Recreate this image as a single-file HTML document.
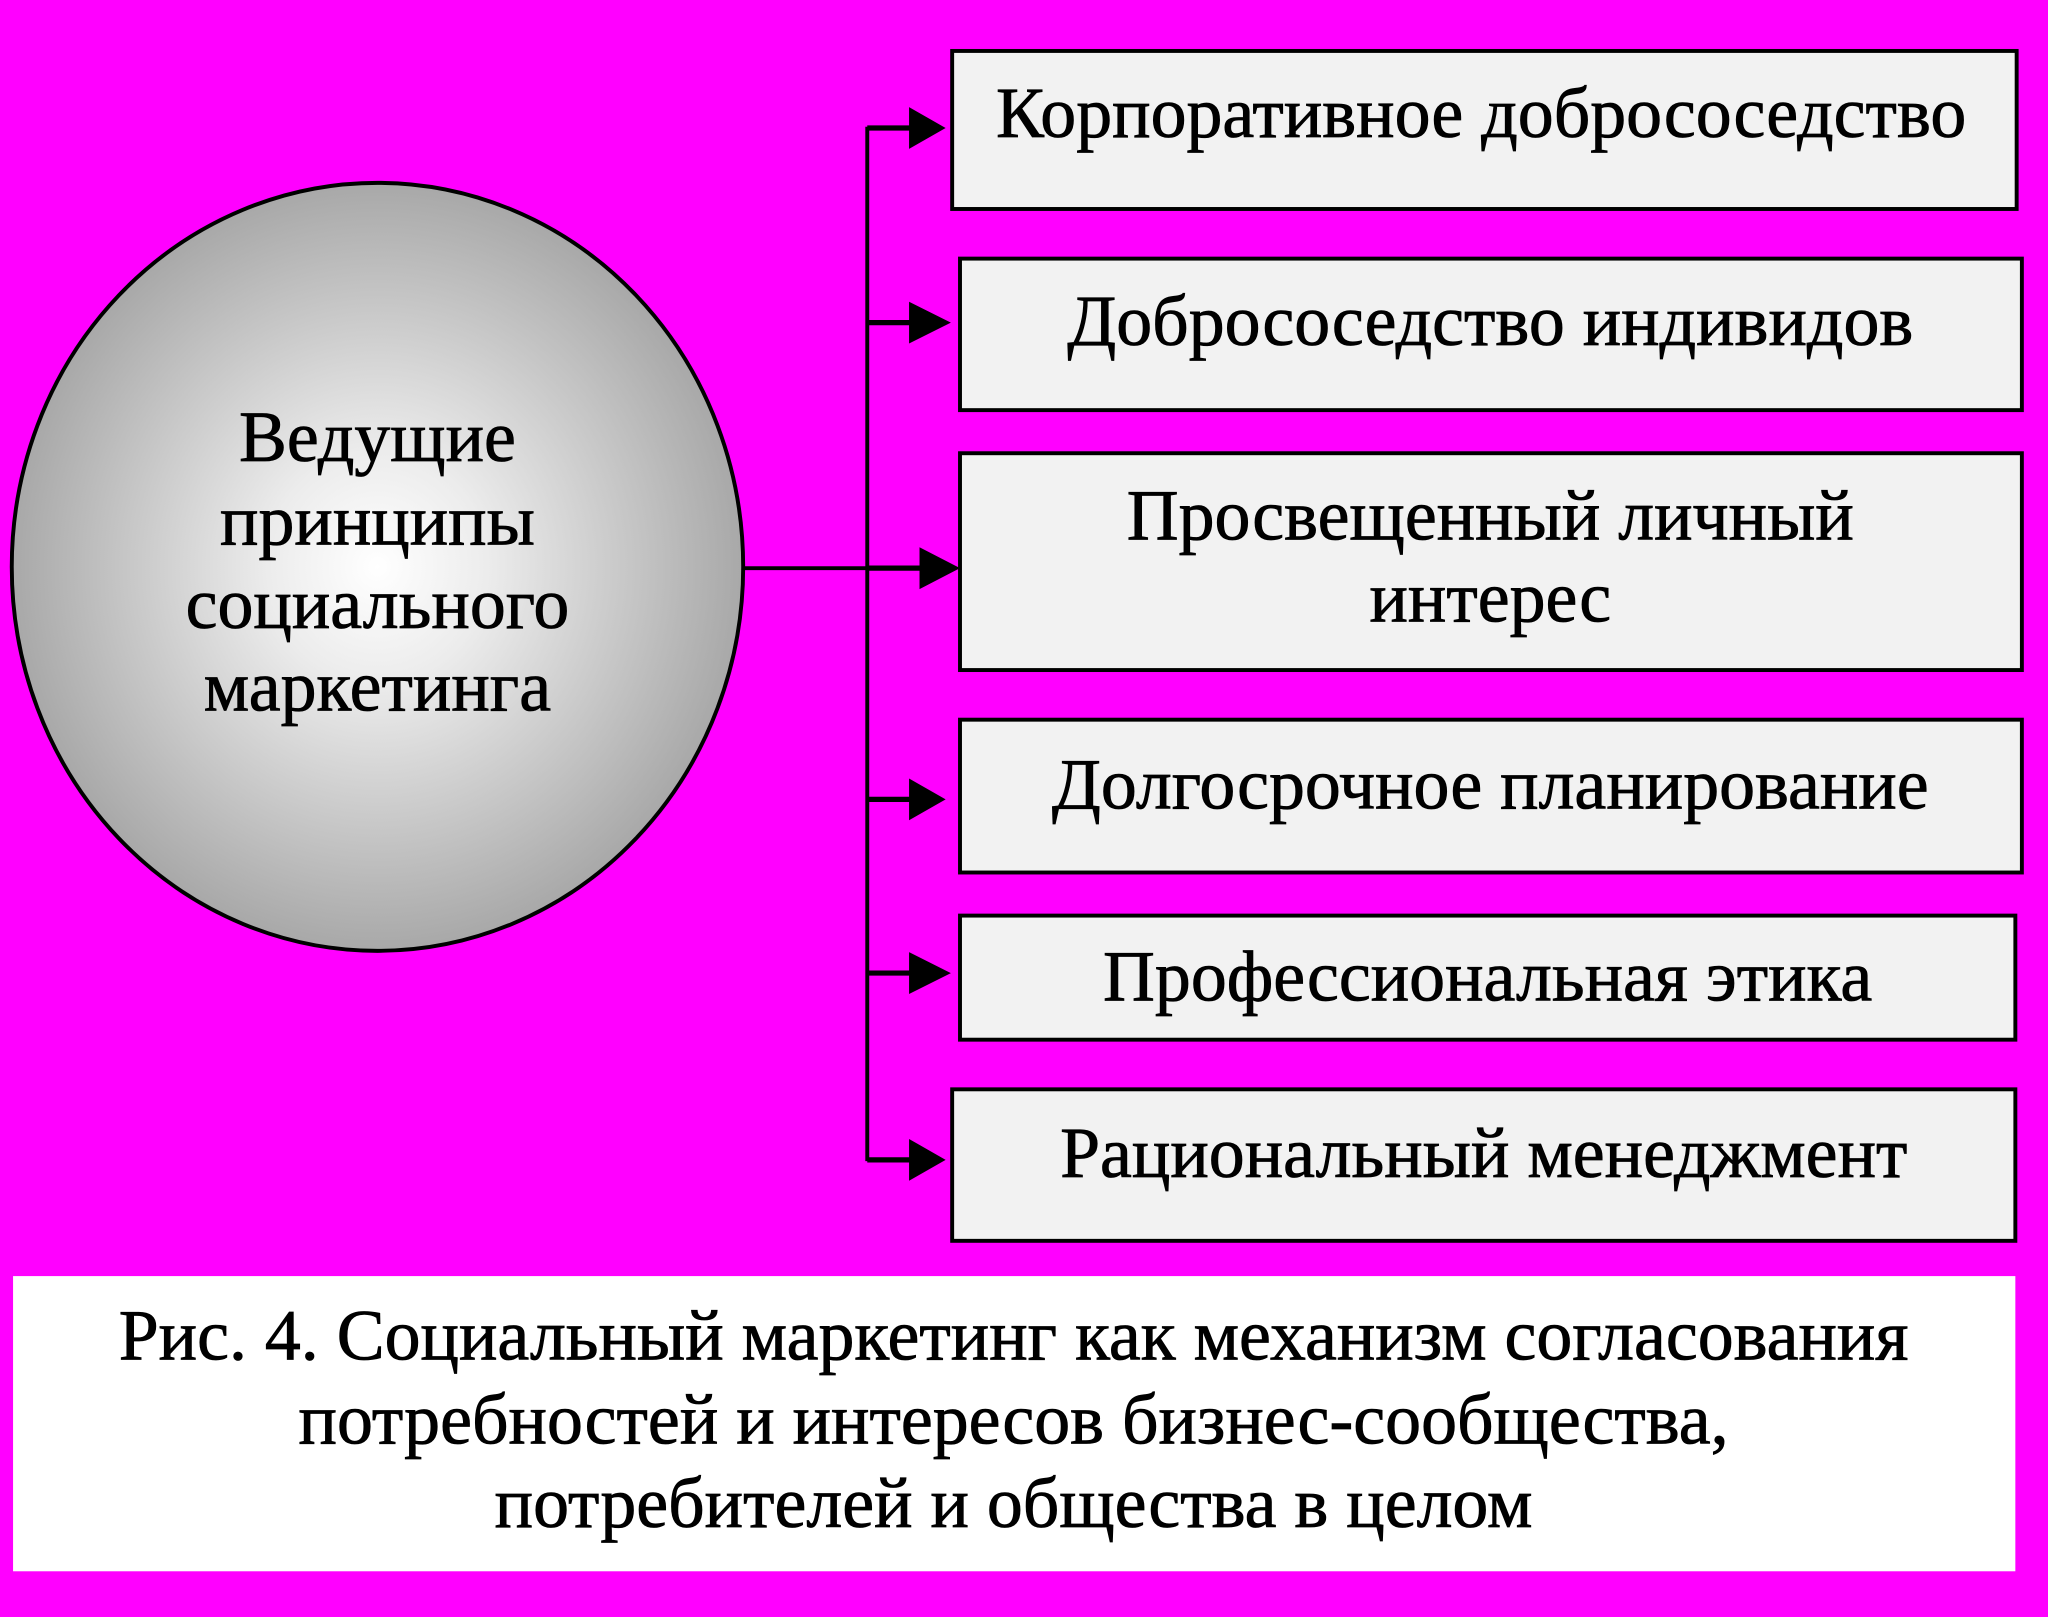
<!DOCTYPE html>
<html><head><meta charset="utf-8"><style>html,body{margin:0;padding:0;background:#ff00ff;}svg{display:block;}text{font-family:"Liberation Serif",serif;fill:#000;stroke:#000;stroke-width:0.6;}</style></head><body>
<svg width="2048" height="1617" viewBox="0 0 1568 1238" preserveAspectRatio="none" xmlns="http://www.w3.org/2000/svg">
<defs>
<radialGradient id="g" cx="50%" cy="50%" r="50%"><stop offset="0" stop-color="#ffffff"/><stop offset="0.3" stop-color="#ececec"/><stop offset="1" stop-color="#a8a8a8"/></radialGradient>
</defs>
<rect width="1568" height="1238" fill="#ff00ff"/>
<ellipse cx="289" cy="434" rx="280" ry="294" fill="url(#g)" stroke="#000" stroke-width="3"/>
<g font-size="55" text-anchor="middle">
<text x="289" y="353">Ведущие</text><text x="289" y="417">принципы</text><text x="289" y="481">социального</text><text x="289" y="544">маркетинга</text>
</g>
<g stroke="#000" stroke-width="3" fill="none">
<line x1="664" y1="97" x2="664" y2="889"/>
<line x1="569" y1="435" x2="664" y2="435"/>
</g>
<g fill="#000">
<path d="M664,96 h32 v-14 l28,16 l-28,16 v-14 h-32z"/>
<path d="M664,245 h32 v-14 l32,16 l-32,16 v-14 h-32z"/>
<path d="M664,433 h40 v-14 l31,16 l-31,16 v-14 h-40z"/>
<path d="M664,610 h32 v-14 l28,16 l-28,16 v-14 h-32z"/>
<path d="M664,743 h32 v-14 l32,16 l-32,16 v-14 h-32z"/>
<path d="M664,886 h32 v-14 l28,16 l-28,16 v-14 h-32z"/>
</g>
<g fill="#f2f2f2" stroke="#000" stroke-width="3">
<rect x="729" y="39" width="815" height="121"/>
<rect x="735" y="198" width="813" height="116"/>
<rect x="735" y="347" width="813" height="166"/>
<rect x="735" y="551" width="813" height="117"/>
<rect x="735" y="701" width="808" height="95"/>
<rect x="729" y="834" width="814" height="116"/>
</g>
<g font-size="55" text-anchor="middle">
<text x="1134" y="105">Корпоративное добрососедство</text>
<text x="1141" y="264">Добрососедство индивидов</text>
<text x="1141" y="413">Просвещенный личный</text>
<text x="1141" y="476">интерес</text>
<text x="1141" y="619">Долгосрочное планирование</text>
<text x="1139" y="766">Профессиональная этика</text>
<text x="1136" y="901">Рациональный менеджмент</text>
</g>
<rect x="10" y="977" width="1533" height="226" fill="#ffffff"/>
<g font-size="55" text-anchor="middle">
<text x="776" y="1041">Рис. 4. Социальный маркетинг как механизм согласования</text>
<text x="776" y="1105">потребностей и интересов бизнес-сообщества,</text>
<text x="776" y="1169">потребителей и общества в целом</text>
</g>
</svg>
</body></html>
